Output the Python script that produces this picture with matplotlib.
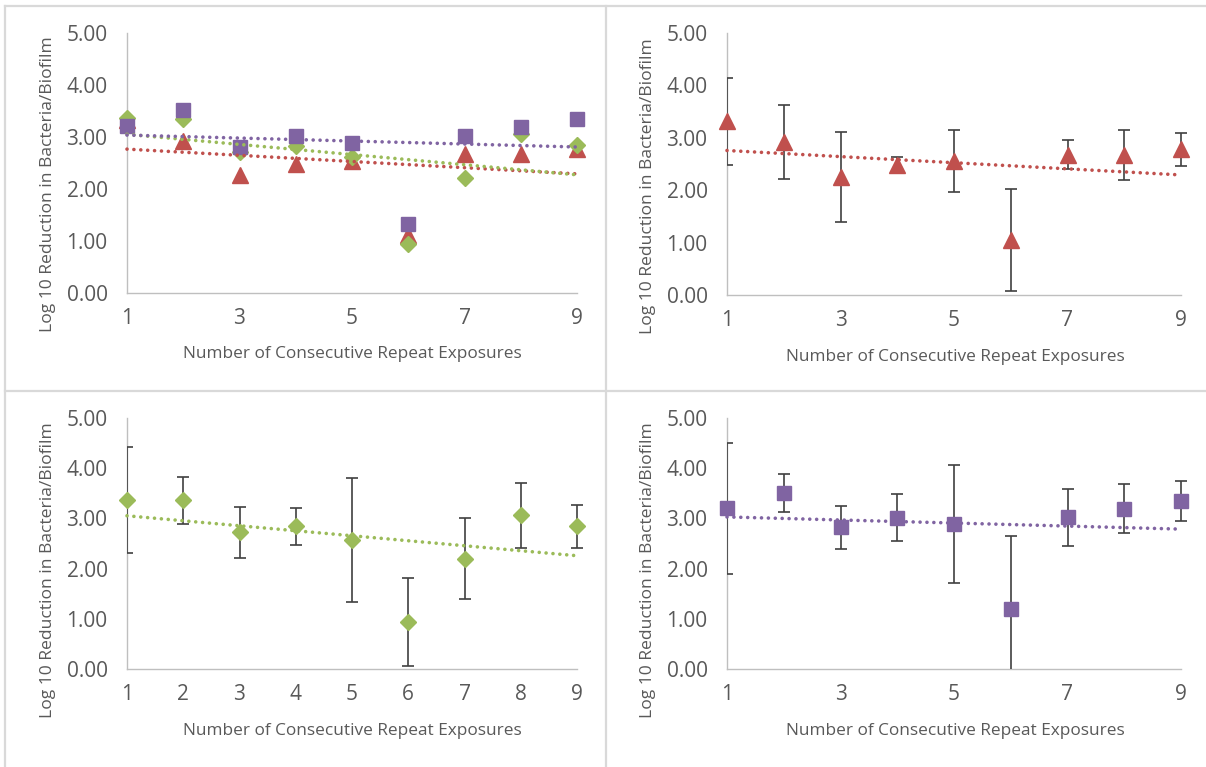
import numpy as np
import matplotlib
matplotlib.use("Agg")
from matplotlib import pyplot as plt
from matplotlib.lines import Line2D
from matplotlib.patches import Rectangle

plt.rcParams['font.family'] = ['Open Sans', 'DejaVu Sans']

# exposures 1..9
exposures = np.arange(1, 10)

# summary panel (top left)
summary_red = [3.33, 2.92, 2.26, 2.49, 2.54, 1.11, 2.68, 2.67, 2.76]
summary_green = [3.37, 3.35, 2.72, 2.83, 2.62, 0.95, 2.21, 3.06, 2.85]
summary_purple = [3.21, 3.51, 2.81, 3.01, 2.89, 1.33, 3.01, 3.19, 3.34]

# single series with error bars
red_mean = [3.32, 2.92, 2.26, 2.48, 2.56, 1.05, 2.68, 2.67, 2.78]
red_err = [0.83, 0.70, 0.86, 0.15, 0.59, 0.98, 0.28, 0.48, 0.31]

green_mean = [3.37, 3.36, 2.72, 2.84, 2.57, 0.93, 2.20, 3.06, 2.84]
green_err = [1.05, 0.47, 0.51, 0.36, 1.23, 0.88, 0.81, 0.65, 0.43]

purple_mean = [3.20, 3.51, 2.82, 3.01, 2.89, 1.19, 3.02, 3.19, 3.34]
purple_err = [1.31, 0.38, 0.43, 0.47, 1.18, 1.45, 0.56, 0.49, 0.40]

RED = '#C0504D'
GREEN = '#9BBB59'
PURPLE = '#8064A2'
TEXT = '#595959'
AXIS = '#BFBFBF'
ERRC = '#404040'

XLABEL = 'Number of Consecutive Repeat Exposures'
YLABEL = 'Log 10 Reduction in Bacteria/Biofilm'

W, H = 1206, 767
fig = plt.figure(figsize=(W / 100, H / 100), dpi=100)


def px_axes(left, top, right, bottom):
    return fig.add_axes([left / W, 1 - bottom / H, (right - left) / W, (bottom - top) / H])


def style(ax, xticks):
    ax.set_xlim(1, 9)
    ax.set_ylim(0, 5)
    ax.set_yticks(np.arange(0, 6))
    ax.set_yticklabels(['%.2f' % v for v in np.arange(0, 6)])
    ax.set_xticks(xticks)
    ax.tick_params(length=0, labelsize=15, labelcolor=TEXT)
    ax.tick_params(axis='x', pad=11)
    ax.tick_params(axis='y', pad=14)
    for s in ['top', 'right']:
        ax.spines[s].set_visible(False)
    for s in ['left', 'bottom']:
        ax.spines[s].set_color(AXIS)
        ax.spines[s].set_linewidth(1.0)


def trend(ax, y, color):
    k, b = np.polyfit(exposures, y, 1)
    xs = np.array([1, 9])
    ax.plot(xs, k * xs + b, color=color, lw=2.6, linestyle=(0, (0.01, 1.9)),
            dash_capstyle='round', zorder=5, clip_on=False)


def markers(ax, y, color, marker, size):
    ax.plot(exposures, y, linestyle='none', marker=marker, markersize=size,
            color=color, markeredgecolor=color, zorder=4, clip_on=False)


def errbars(ax, y, err):
    c = ax.errorbar(exposures, y, yerr=err, fmt='none', ecolor=ERRC,
                    elinewidth=1.2, capsize=4, capthick=1.2, zorder=3)
    clip = Rectangle((1, 0), 8.3, 5.5, transform=ax.transData)
    for art in list(c[1]) + list(c[2]):
        art.set_clip_path(clip)


def labels(xl, yl):
    fig.text(xl[0] / W, 1 - xl[1] / H, XLABEL, ha='center', va='center',
             fontsize=12.4, color=TEXT)
    fig.text(yl[0] / W, 1 - yl[1] / H, YLABEL, ha='center', va='center',
             fontsize=12.6, color=TEXT, rotation=90)


# top left: all three series
ax1 = px_axes(127, 33, 577, 293)
style(ax1, [1, 3, 5, 7, 9])
markers(ax1, summary_red, RED, '^', 11)
markers(ax1, summary_green, GREEN, 'D', 8)
markers(ax1, summary_purple, PURPLE, 's', 10.5)
trend(ax1, summary_red, RED)
trend(ax1, summary_green, GREEN)
trend(ax1, summary_purple, PURPLE)
labels((352, 354), (48, 184))

# top right: red
ax2 = px_axes(727, 33, 1181, 295)
style(ax2, [1, 3, 5, 7, 9])
errbars(ax2, red_mean, red_err)
markers(ax2, red_mean, RED, '^', 11)
trend(ax2, red_mean, RED)
labels((955, 357), (648, 186))

# bottom left: green
ax3 = px_axes(127, 418, 577, 669)
style(ax3, list(range(1, 10)))
errbars(ax3, green_mean, green_err)
markers(ax3, green_mean, GREEN, 'D', 8)
trend(ax3, green_mean, GREEN)
labels((352, 731), (48, 570))

# bottom right: purple
ax4 = px_axes(727, 418, 1181, 669)
style(ax4, [1, 3, 5, 7, 9])
errbars(ax4, purple_mean, purple_err)
markers(ax4, purple_mean, PURPLE, 's', 10.5)
trend(ax4, purple_mean, PURPLE)
labels((955, 731), (648, 570))

# light grey frame lines between the panels
frame = '#D9D9D9'
for xs, ys in [((5, W), (6, 6)), ((5, 5), (6, H)), ((606, 606), (6, H)), ((5, W), (391, 391))]:
    fig.add_artist(Line2D([x / W for x in xs], [1 - y / H for y in ys],
                          color=frame, lw=1.6, transform=fig.transFigure))

fig.savefig('out.png', dpi=100)
